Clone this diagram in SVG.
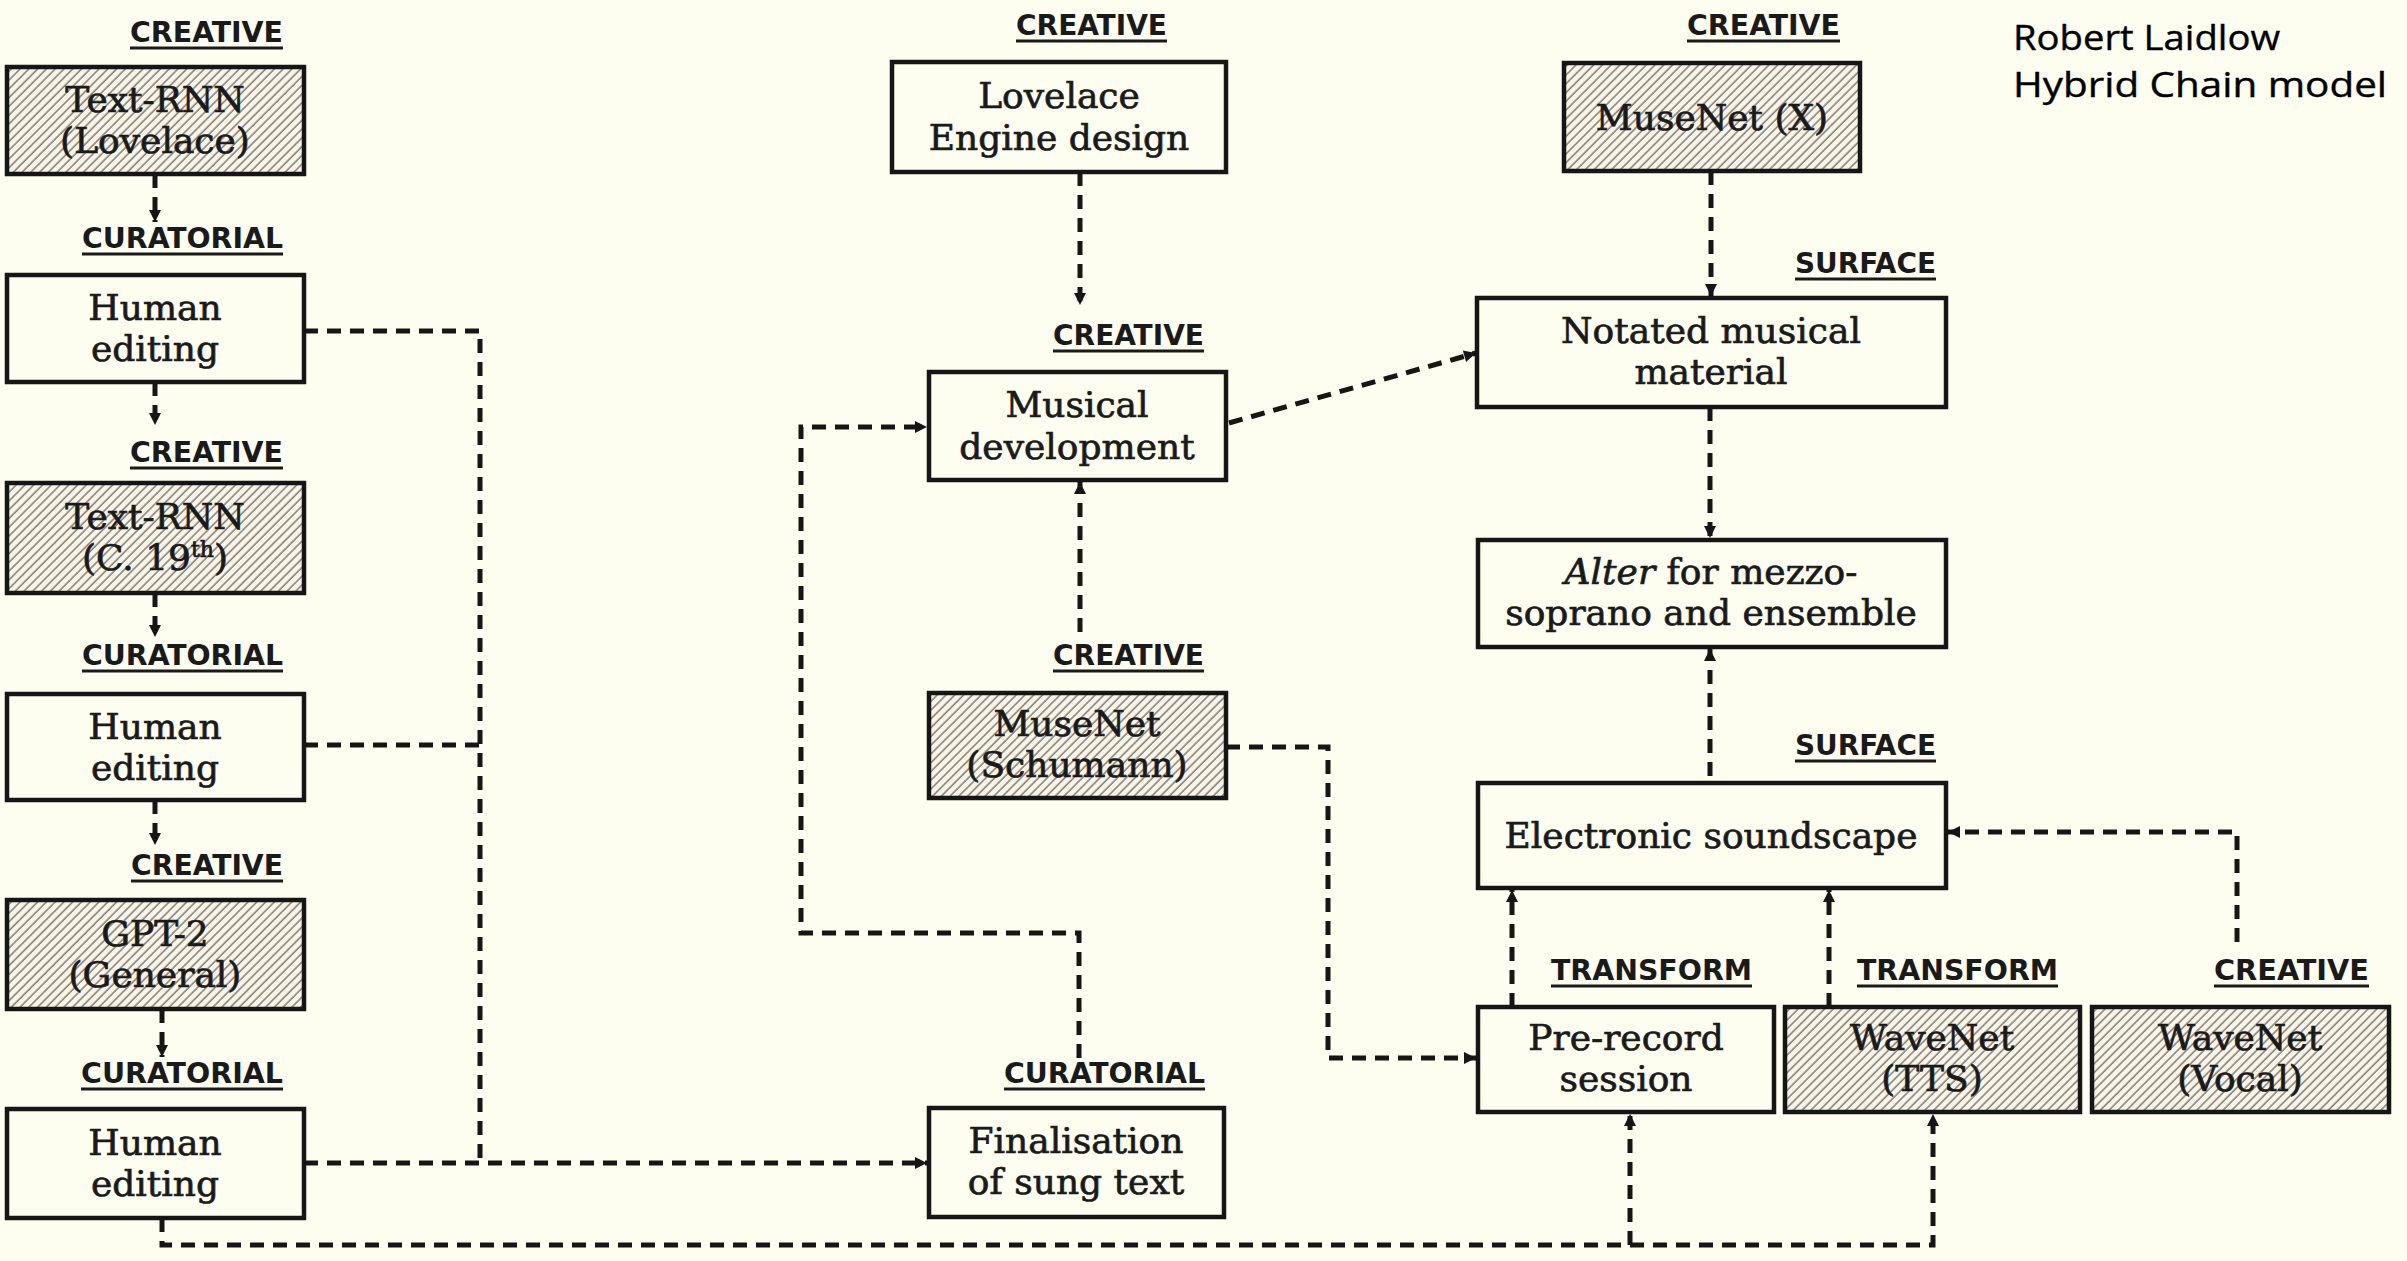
<svg xmlns="http://www.w3.org/2000/svg" width="2407" height="1261" viewBox="0 0 2407 1261">
<defs>
<style>
.bg{fill:#FEFEF0}
.box{fill:#FEFEF0;stroke:#161616;stroke-width:4.5}
.hbox{fill:url(#hatch);stroke:#161616;stroke-width:4.5}
.t{font-family:"DejaVu Serif","Liberation Serif",serif;font-size:36px;fill:#1a1a1a;stroke:#1a1a1a;stroke-width:0.7;text-anchor:middle}
.lab{font-family:"Liberation Sans Narrow","DejaVu Sans Condensed","Liberation Sans",sans-serif;font-weight:bold;font-size:29px;fill:#1a1a1a}
.ul{stroke:#1a1a1a;stroke-width:3}
.c{fill:none;stroke:#161616;stroke-width:5;stroke-dasharray:14 9}
.title{font-family:"Open Sans","Noto Sans",sans-serif;font-size:35px;fill:#000;stroke:#000;stroke-width:0.4}
</style>
<pattern id="hatch" patternUnits="userSpaceOnUse" width="6.2" height="6.2" patternTransform="rotate(45)">
<rect width="6.2" height="6.2" fill="#F7F4E8"/>
<line x1="1" y1="0" x2="1" y2="6.2" stroke="#8a7b74" stroke-width="1.5"/>
</pattern>
<marker id="ah" markerUnits="userSpaceOnUse" markerWidth="16" markerHeight="16" viewBox="0 0 16 16" refX="14" refY="8" orient="auto">
<path d="M2 2 L14 8 L2 14 Z" fill="#161616"/>
</marker>
</defs>
<rect class="bg" x="0" y="0" width="2407" height="1261"/>

<g id="connectors">
<path class="c" d="M155 174 V222" marker-end="url(#ah)"/>
<path class="c" d="M155 382 V425" marker-end="url(#ah)"/>
<path class="c" d="M155 593 V637" marker-end="url(#ah)"/>
<path class="c" d="M155 800 V845" marker-end="url(#ah)"/>
<path class="c" d="M162 1009 V1057" marker-end="url(#ah)"/>
<path class="c" d="M304 331 H480 V1163"/>
<path class="c" d="M304 745 H480"/>
<path class="c" d="M304 1163 H927" marker-end="url(#ah)"/>
<path class="c" d="M162 1218 V1245 H1933 V1114" marker-end="url(#ah)"/>
<path class="c" d="M1630 1245 V1114" marker-end="url(#ah)"/>
<path class="c" d="M1080 172 V305" marker-end="url(#ah)"/>
<path class="c" d="M1079 1058 V933 H801 V427 H927" marker-end="url(#ah)"/>
<path class="c" d="M1080 632 V482" marker-end="url(#ah)"/>
<path class="c" d="M1229 423 L1476 353" marker-end="url(#ah)"/>
<path class="c" d="M1711 171 V296" marker-end="url(#ah)"/>
<path class="c" d="M1710 407 V538" marker-end="url(#ah)"/>
<path class="c" d="M1710 776 V649" marker-end="url(#ah)"/>
<path class="c" d="M1226 747 H1328 V1058 H1476" marker-end="url(#ah)"/>
<path class="c" d="M1512 1007 V890" marker-end="url(#ah)"/>
<path class="c" d="M1829 1007 V890" marker-end="url(#ah)"/>
<path class="c" d="M2237 942 V832 H1948" marker-end="url(#ah)"/>
</g>

<g id="labels">
<text class="lab" x="130" y="42" textLength="153" lengthAdjust="spacingAndGlyphs">CREATIVE</text><line class="ul" x1="130" y1="48" x2="283" y2="48"/>
<text class="lab" x="82" y="248" textLength="201" lengthAdjust="spacingAndGlyphs">CURATORIAL</text><line class="ul" x1="82" y1="254" x2="283" y2="254"/>
<text class="lab" x="130" y="462" textLength="153" lengthAdjust="spacingAndGlyphs">CREATIVE</text><line class="ul" x1="130" y1="468" x2="283" y2="468"/>
<text class="lab" x="82" y="665" textLength="201" lengthAdjust="spacingAndGlyphs">CURATORIAL</text><line class="ul" x1="82" y1="671" x2="283" y2="671"/>
<text class="lab" x="131" y="875" textLength="152" lengthAdjust="spacingAndGlyphs">CREATIVE</text><line class="ul" x1="131" y1="881" x2="283" y2="881"/>
<text class="lab" x="81" y="1083" textLength="202" lengthAdjust="spacingAndGlyphs">CURATORIAL</text><line class="ul" x1="81" y1="1089" x2="283" y2="1089"/>
<text class="lab" x="1016" y="35" textLength="151" lengthAdjust="spacingAndGlyphs">CREATIVE</text><line class="ul" x1="1016" y1="41" x2="1167" y2="41"/>
<text class="lab" x="1053" y="345" textLength="151" lengthAdjust="spacingAndGlyphs">CREATIVE</text><line class="ul" x1="1053" y1="351" x2="1204" y2="351"/>
<text class="lab" x="1053" y="665" textLength="151" lengthAdjust="spacingAndGlyphs">CREATIVE</text><line class="ul" x1="1053" y1="671" x2="1204" y2="671"/>
<text class="lab" x="1004" y="1083" textLength="201" lengthAdjust="spacingAndGlyphs">CURATORIAL</text><line class="ul" x1="1004" y1="1089" x2="1205" y2="1089"/>
<text class="lab" x="1687" y="35" textLength="153" lengthAdjust="spacingAndGlyphs">CREATIVE</text><line class="ul" x1="1687" y1="41" x2="1840" y2="41"/>
<text class="lab" x="1795" y="273" textLength="141" lengthAdjust="spacingAndGlyphs">SURFACE</text><line class="ul" x1="1795" y1="279" x2="1936" y2="279"/>
<text class="lab" x="1795" y="755" textLength="141" lengthAdjust="spacingAndGlyphs">SURFACE</text><line class="ul" x1="1795" y1="761" x2="1936" y2="761"/>
<text class="lab" x="1551" y="980" textLength="201" lengthAdjust="spacingAndGlyphs">TRANSFORM</text><line class="ul" x1="1551" y1="986" x2="1752" y2="986"/>
<text class="lab" x="1857" y="980" textLength="201" lengthAdjust="spacingAndGlyphs">TRANSFORM</text><line class="ul" x1="1857" y1="986" x2="2058" y2="986"/>
<text class="lab" x="2214" y="980" textLength="155" lengthAdjust="spacingAndGlyphs">CREATIVE</text><line class="ul" x1="2214" y1="986" x2="2369" y2="986"/>
</g>

<g id="textrnn-lovelace"><rect class="hbox" x="7" y="67" width="297" height="107"/><text class="t" x="155" y="112">Text-RNN</text><text class="t" x="155" y="153">(Lovelace)</text></g>
<g id="human-editing-1"><rect class="box" x="7" y="275" width="297" height="107"/><text class="t" x="155" y="320">Human</text><text class="t" x="155" y="361">editing</text></g>
<g id="textrnn-c19"><rect class="hbox" x="7" y="483" width="297" height="110"/><text class="t" x="155" y="529">Text-RNN</text><text class="t" x="155" y="570">(C. 19<tspan font-size="22" dy="-13">th</tspan><tspan dy="13">)</tspan></text></g>
<g id="human-editing-2"><rect class="box" x="7" y="694" width="297" height="106"/><text class="t" x="155" y="739">Human</text><text class="t" x="155" y="780">editing</text></g>
<g id="gpt2"><rect class="hbox" x="7" y="900" width="297" height="109"/><text class="t" x="155" y="946">GPT-2</text><text class="t" x="155" y="987">(General)</text></g>
<g id="human-editing-3"><rect class="box" x="7" y="1109" width="297" height="109"/><text class="t" x="155" y="1155">Human</text><text class="t" x="155" y="1196">editing</text></g>

<g id="lovelace-engine"><rect class="box" x="892" y="62" width="334" height="110"/><text class="t" x="1059" y="108">Lovelace</text><text class="t" x="1059" y="150">Engine design</text></g>
<g id="musical-development"><rect class="box" x="929" y="372" width="297" height="108"/><text class="t" x="1077" y="417">Musical</text><text class="t" x="1077" y="459">development</text></g>
<g id="musenet-schumann"><rect class="hbox" x="929" y="693" width="297" height="105"/><text class="t" x="1077" y="736">MuseNet</text><text class="t" x="1077" y="777">(Schumann)</text></g>
<g id="finalisation"><rect class="box" x="929" y="1108" width="295" height="109"/><text class="t" x="1076" y="1153">Finalisation</text><text class="t" x="1076" y="1194">of sung text</text></g>

<g id="musenet-x"><rect class="hbox" x="1564" y="63" width="296" height="108"/><text class="t" x="1712" y="130">MuseNet (X)</text></g>
<g id="notated-material"><rect class="box" x="1477" y="298" width="469" height="109"/><text class="t" x="1711" y="343">Notated musical</text><text class="t" x="1711" y="384">material</text></g>
<g id="alter"><rect class="box" x="1478" y="540" width="468" height="107"/><text class="t" x="1711" y="584"><tspan font-style="italic">Alter</tspan> for mezzo-</text><text class="t" x="1711" y="625">soprano and ensemble</text></g>
<g id="electronic-soundscape"><rect class="box" x="1478" y="783" width="468" height="105"/><text class="t" x="1711" y="848">Electronic soundscape</text></g>
<g id="pre-record"><rect class="box" x="1478" y="1007" width="296" height="105"/><text class="t" x="1626" y="1050">Pre-record</text><text class="t" x="1626" y="1091">session</text></g>
<g id="wavenet-tts"><rect class="hbox" x="1785" y="1007" width="295" height="105"/><text class="t" x="1932" y="1050">WaveNet</text><text class="t" x="1932" y="1091">(TTS)</text></g>
<g id="wavenet-vocal"><rect class="hbox" x="2092" y="1007" width="297" height="105"/><text class="t" x="2240" y="1050">WaveNet</text><text class="t" x="2240" y="1091">(Vocal)</text></g>

<g id="title">
<text class="title" x="2013" y="50" textLength="267" lengthAdjust="spacingAndGlyphs">Robert Laidlow</text>
<text class="title" x="2013" y="97" textLength="374" lengthAdjust="spacingAndGlyphs">Hybrid Chain model</text>
</g>
</svg>
